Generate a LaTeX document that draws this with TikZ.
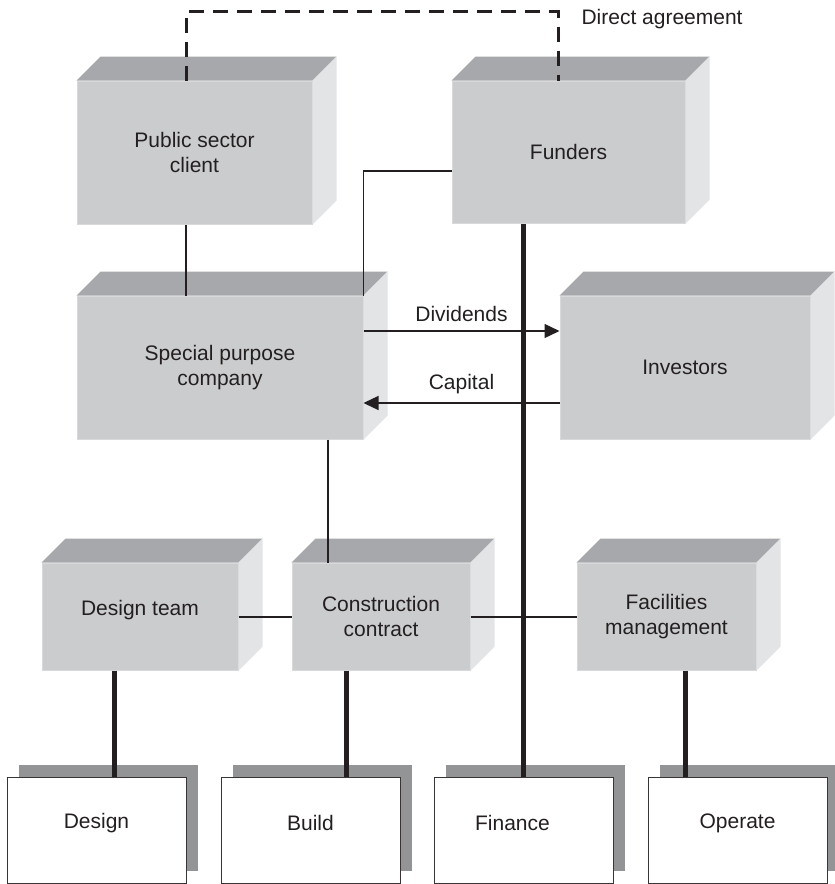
\documentclass[tikz,border=0pt]{standalone}
\usepackage{fontspec}
\setmainfont{Liberation Sans}
\usetikzlibrary{arrows.meta,calc,shadows}
\definecolor{frontgray}{HTML}{CBCCCE}
\definecolor{edgegray}{HTML}{D8D9DB}
\definecolor{topgray}{HTML}{A7A8AB}
\definecolor{sidegray}{HTML}{E3E4E6}
\definecolor{shadowgray}{HTML}{939496}
\definecolor{ink}{HTML}{231F20}
% top and right faces of a 3D block whose front face is node #1
\newcommand\blockfaces[1]{%
  \fill[topgray] (#1.north west) -- ++(24,-24) -- ($(#1.north east)+(24,-24)$) -- (#1.north east) -- cycle;
  \fill[sidegray] (#1.north east) -- ++(24,-24) -- ($(#1.south east)+(24,-24)$) -- (#1.south east) -- cycle;
}
\begin{document}
\begin{tikzpicture}[x=1pt,y=-1pt,
  font=\fontsize{21}{24.5}\selectfont, text=ink,
  front/.style={fill=frontgray, draw=edgegray, line width=1pt, align=center, inner sep=0pt},
  task/.style={fill=white, draw=ink!90, line width=1pt, minimum width=179pt, minimum height=106pt,
    inner sep=0pt, drop shadow={shadow xshift=12pt, shadow yshift=12pt, fill=shadowgray, opacity=1}},
  link/.style={draw=ink, line width=1.3pt},
  heavy/.style={draw=ink, line width=5pt},
  agreement/.style={draw=ink, line width=3pt, dash pattern=on 15pt off 9pt},
  flow/.style={link, -{Triangle[length=15pt,width=14pt]}}]
\useasboundingbox (0,0) rectangle (835,884);

% 3D blocks
\node[front, minimum width=235pt, minimum height=143pt] (psc) at (194.5,152.5) {Public sector\\client};
\blockfaces{psc}
\node[front, minimum width=233pt, minimum height=142pt] (fund) at (568.5,152) {Funders};
\blockfaces{fund}
\node[front, minimum width=286pt, minimum height=143pt] (spv) at (220,367.5) {Special purpose\\company};
\blockfaces{spv}
\node[front, minimum width=250pt, minimum height=143pt] (inv) at (685,367.5) {Investors};
\blockfaces{inv}
\node[front, minimum width=196pt, minimum height=107pt,
  label={[yshift=6pt]center:Design team}] (dt) at (140,616.5) {};
\blockfaces{dt}
\node[front, minimum width=178pt, minimum height=107pt] (con) at (381,616.5) {Construction\\contract};
\blockfaces{con}
\node[front, minimum width=179pt, minimum height=107pt] (fac) at (666.5,616.5) {Facilities\\management};
\blockfaces{fac}

% DBFO activity boxes
\node[task, label={[yshift=7pt]center:Design}] (des) at (96.5,830) {};
\node[task, label={[yshift=7pt]center:Build}] (bld) at (310.5,830) {};
\node[task, label={[xshift=-11pt,yshift=7pt]center:Finance}] (fin) at (523.5,830) {};
\node[task, label={[yshift=7pt]center:Operate}] (opr) at (737.5,830) {};

% direct agreement between client and funders
\draw[agreement] ([xshift=-8.5pt]psc.north) -- ++(0,-69) -| ([xshift=-10.5pt]fund.north);
\node[anchor=base west] (dalabel) at (578,24) {Direct agreement};

% contractual links
\draw[link] ([xshift=-8.5pt]psc.south) -- ([xshift=-8.5pt]psc.south |- spv.north);
\draw[link] ([yshift=-19pt]fund.west) -| (spv.north east);
\draw[link] ([xshift=108pt]spv.south) -- ([xshift=108pt]spv.south |- con.north);
\draw[link] ([yshift=-0.5pt]dt.east) -- ([yshift=-0.5pt]con.west);
\draw[link] ([yshift=-0.5pt]con.east) -- ([yshift=-0.5pt]fac.west);

% money flows
\draw[flow] ([yshift=36.5pt]spv.east) -- ([yshift=36.5pt]spv.east -| inv.west)
  node[midway, above=5pt] (divl) {Dividends};
\draw[flow] ([yshift=-35.5pt]inv.west) -- ([yshift=-35.5pt]inv.west -| spv.east)
  node[midway, above=5pt] (capl) {Capital};

% heavy links to activities
\draw[heavy] (fin.north) -- (fin.north |- fund.south);
\draw[heavy] ([xshift=-26pt]dt.south) -- ([xshift=-26pt]dt.south |- des.north);
\draw[heavy] ([xshift=-35pt]con.south) -- ([xshift=-35pt]con.south |- bld.north);
\draw[heavy] ([xshift=18.5pt]fac.south) -- ([xshift=18.5pt]fac.south |- opr.north);
\end{tikzpicture}
\end{document}
